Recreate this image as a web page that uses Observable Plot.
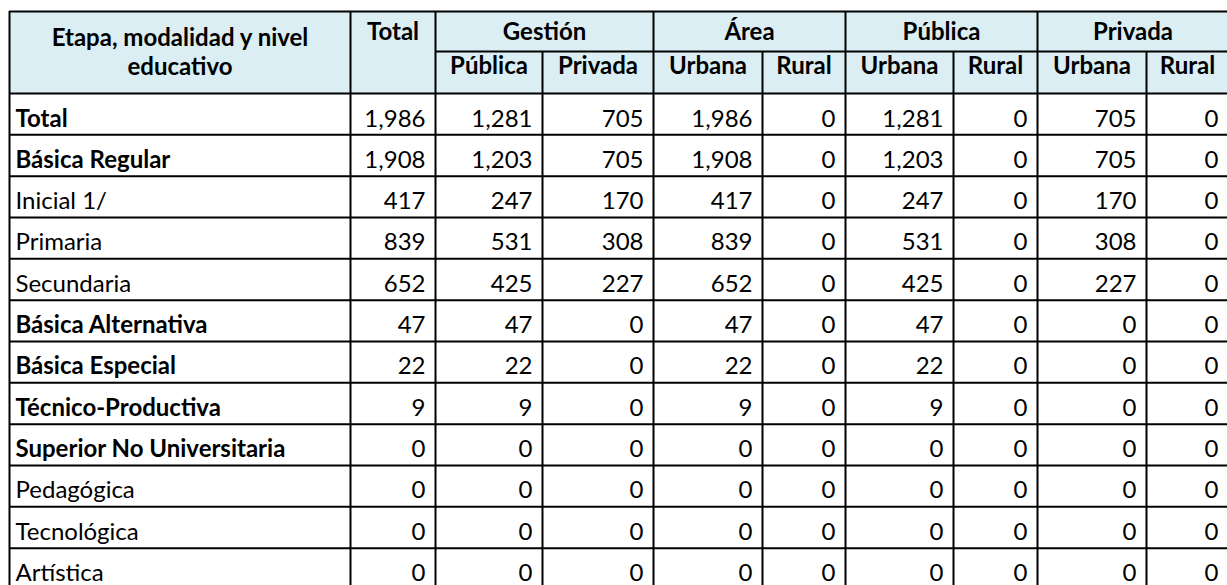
<!DOCTYPE html>
<html>
<head>
<meta charset="utf-8">
<script src="https://cdn.jsdelivr.net/npm/d3@7"></script>
<script src="https://cdn.jsdelivr.net/npm/@observablehq/plot@0.6"></script>
<style>
  html, body { margin: 0; padding: 0; background: #ffffff; }
  svg { display: block; }
</style>
</head>
<body>
<div id="chart"></div>
<script>
// ---------- DATA ----------
const rowLabels = ["Total", "Básica Regular", "Inicial 1/", "Primaria", "Secundaria",
  "Básica Alternativa", "Básica Especial", "Técnico-Productiva",
  "Superior No Universitaria", "Pedagógica", "Tecnológica", "Artística"];
const boldRows = ["Total", "Básica Regular", "Básica Alternativa", "Básica Especial",
  "Técnico-Productiva", "Superior No Universitaria"];

const total          = [1986, 1908, 417, 839, 652, 47, 22, 9, 0, 0, 0, 0];
const gestionPublica = [1281, 1203, 247, 531, 425, 47, 22, 9, 0, 0, 0, 0];
const gestionPrivada = [705, 705, 170, 308, 227, 0, 0, 0, 0, 0, 0, 0];
const areaUrbana     = [1986, 1908, 417, 839, 652, 47, 22, 9, 0, 0, 0, 0];
const areaRural      = [0, 0, 0, 0, 0, 0, 0, 0, 0, 0, 0, 0];
const publicaUrbana  = [1281, 1203, 247, 531, 425, 47, 22, 9, 0, 0, 0, 0];
const publicaRural   = [0, 0, 0, 0, 0, 0, 0, 0, 0, 0, 0, 0];
const privadaUrbana  = [705, 705, 170, 308, 227, 0, 0, 0, 0, 0, 0, 0];
const privadaRural   = [0, 0, 0, 0, 0, 0, 0, 0, 0, 0, 0, 0];

const firstHeader = "Etapa, modalidad y nivel\neducativo";
const totalHeader = "Total";
const groupHeaders = ["Gestión", "Área", "Pública", "Privada"];
const subHeaders = ["Pública", "Privada", "Urbana", "Rural", "Urbana", "Rural", "Urbana", "Rural"];

// ---------- LAYOUT ----------
const W = 1227, H = 585;
const colEdges = [9, 350, 435, 542, 653, 762, 845, 953, 1037, 1146, 1228];
const tableTop = 11, midHeader = 51, headerBottom = 93, rowH = 41.33;
const fontSize = 24;
const font = "Lato, 'Open Sans', sans-serif";
const headerFill = "#DAEEF3";

const valueCols = [total, gestionPublica, gestionPrivada, areaUrbana, areaRural,
  publicaUrbana, publicaRural, privadaUrbana, privadaRural];
const fmt = d3.format(",");
const rowTop = i => headerBottom + i * rowH;
const tableBottom = rowTop(rowLabels.length);

// cells
const cells = [];
rowLabels.forEach((lab, i) => {
  const bold = boldRows.includes(lab);
  cells.push({x: colEdges[0] + 6, y: rowTop(i) + 33, text: lab, anchor: "start", bold});
  valueCols.forEach((col, j) => {
    cells.push({x: colEdges[j + 2] - 10, y: rowTop(i) + 33, text: fmt(col[i]), anchor: "end", bold: false});
  });
});

// header labels
const headerCells = [];
headerCells.push({x: (colEdges[0] + colEdges[1]) / 2, y: 74, text: firstHeader});
headerCells.push({x: (colEdges[1] + colEdges[2]) / 2, y: 39, text: totalHeader});
groupHeaders.forEach((g, k) => {
  const a = colEdges[2 + 2 * k], b = colEdges[4 + 2 * k];
  headerCells.push({x: (a + b) / 2, y: 39, text: g});
});
subHeaders.forEach((s, k) => {
  const a = colEdges[2 + k], b = colEdges[3 + k];
  headerCells.push({x: (a + b) / 2, y: 73, text: s});
});

// grid lines
const hLines = [
  {x1: colEdges[0], x2: colEdges[10], y: tableTop},
  {x1: colEdges[2], x2: colEdges[10], y: midHeader},
  ...d3.range(0, rowLabels.length + 1).map(i => ({x1: colEdges[0], x2: colEdges[10], y: rowTop(i)}))
];
const fullCols = [0, 1, 2, 4, 6, 8, 10];
const vLines = colEdges.map((x, k) => ({x, y1: fullCols.includes(k) ? tableTop : midHeader, y2: tableBottom}));

const chart = Plot.plot({
  width: W,
  height: H,
  margin: 0,
  x: {domain: [0, W], range: [0, W], axis: null},
  y: {domain: [0, H], range: [0, H], axis: null},
  style: {background: "#ffffff", fontFamily: font, color: "#000"},
  marks: [
    Plot.rect([{x1: colEdges[0], x2: colEdges[10], y1: tableTop, y2: headerBottom}],
      {x1: "x1", x2: "x2", y1: "y1", y2: "y2", fill: headerFill}),
    Plot.text(headerCells, {x: "x", y: "y", text: "text", textAnchor: "middle", lineAnchor: "bottom",
      lineHeight: 1.17, fontSize, fontWeight: "bold", fontFamily: font, fill: "#000"}),
    Plot.text(cells.filter(d => d.bold), {x: "x", y: "y", text: "text", textAnchor: "start", lineAnchor: "bottom",
      fontSize, fontWeight: "bold", fontFamily: font, fill: "#000"}),
    Plot.text(cells.filter(d => !d.bold && d.anchor === "start"), {x: "x", y: "y", text: "text", textAnchor: "start", lineAnchor: "bottom",
      fontSize, fontFamily: font, fill: "#000"}),
    Plot.text(cells.filter(d => d.anchor === "end"), {x: "x", y: "y", text: "text", textAnchor: "end", lineAnchor: "bottom",
      fontSize, fontFamily: font, fill: "#000"}),
    Plot.ruleY(hLines, {y: "y", x1: "x1", x2: "x2", stroke: "#000", strokeWidth: 2}),
    Plot.ruleX(vLines, {x: "x", y1: "y1", y2: "y2", stroke: "#000", strokeWidth: 2})
  ]
});
document.getElementById("chart").appendChild(chart);
</script>
</body>
</html>
